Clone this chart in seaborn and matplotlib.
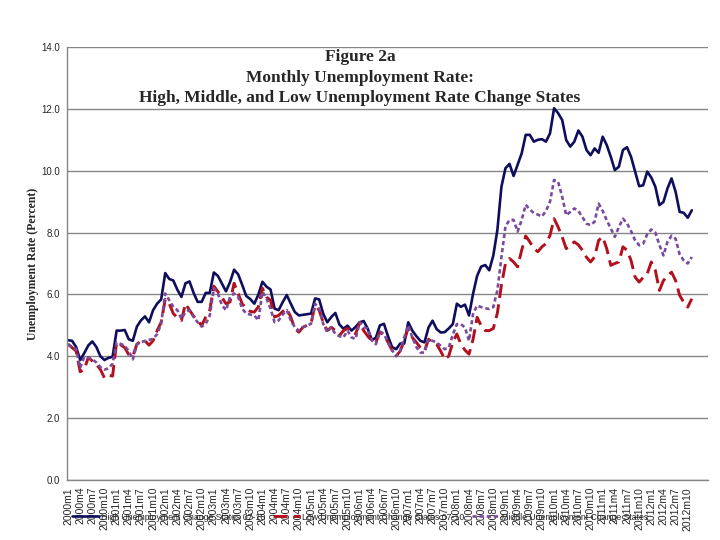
import matplotlib
matplotlib.use("Agg")
import matplotlib.pyplot as plt
import seaborn as sns
from matplotlib.ticker import FormatStrFormatter

# Monthly categories 2000m1 .. 2012m12 (labels only)
YEARS = list(range(2000, 2013))
MONTHS = [f"{y}m{m}" for y in YEARS for m in range(1, 13)]

# Unemployment rate (percent), 2000m1 .. 2012m11
HIGH = [
    4.52, 4.50, 4.30, 3.88, 4.10, 4.35, 4.48, 4.30, 4.00, 3.88, 3.95, 3.98,
    4.83, 4.83, 4.85, 4.55, 4.50, 4.96, 5.16, 5.29, 5.10, 5.49, 5.70, 5.84,
    6.69, 6.50, 6.45, 6.15, 5.92, 6.36, 6.42, 6.05, 5.76, 5.76, 6.05, 6.05,
    6.71, 6.60, 6.35, 6.10, 6.40, 6.80, 6.65, 6.31, 5.95, 5.85, 5.70, 6.00,
    6.41, 6.25, 6.16, 5.54, 5.49, 5.75, 5.98, 5.70, 5.43, 5.32, 5.34, 5.36,
    5.38, 5.87, 5.84, 5.38, 5.10, 5.27, 5.40, 5.03, 4.89, 4.99, 4.83, 4.95,
    5.10, 5.14, 4.89, 4.52, 4.60, 5.00, 5.05, 4.65, 4.30, 4.23, 4.41, 4.41,
    5.10, 4.83, 4.65, 4.50, 4.45, 4.93, 5.15, 4.88, 4.77, 4.78, 4.90, 5.04,
    5.70, 5.60, 5.67, 5.32, 6.02, 6.60, 6.90, 6.95, 6.78, 7.26, 8.08, 9.48,
    10.08, 10.22, 9.83, 10.20, 10.56, 11.16, 11.16, 10.94, 11.00, 11.02, 10.94, 11.21,
    12.02, 11.86, 11.64, 10.99, 10.78, 10.94, 11.30, 11.10, 10.67, 10.50, 10.72, 10.58,
    11.10, 10.83, 10.45, 10.02, 10.13, 10.67, 10.76, 10.45, 9.97, 9.50, 9.53, 9.97,
    9.78, 9.48, 8.89, 8.99, 9.43, 9.75, 9.32, 8.67, 8.64, 8.48, 8.72,
]
LOW = [
    4.39, 4.28, 4.17, 3.50, 3.57, 3.96, 3.85, 3.74, 3.57, 3.30, 3.39, 3.36,
    4.45, 4.37, 4.28, 4.05, 4.00, 4.39, 4.50, 4.50, 4.36, 4.50, 4.83, 5.10,
    5.84, 5.70, 5.38, 5.25, 5.16, 5.70, 5.49, 5.30, 5.16, 4.99, 5.27, 5.49,
    6.27, 6.09, 5.90, 5.70, 5.76, 6.36, 6.03, 5.70, 5.54, 5.45, 5.43, 5.60,
    6.20, 5.92, 5.81, 5.27, 5.32, 5.45, 5.54, 5.27, 4.89, 4.78, 4.94, 5.00,
    5.07, 5.65, 5.49, 5.10, 4.83, 4.94, 4.83, 4.67, 4.83, 4.90, 4.85, 4.72,
    5.10, 4.83, 4.65, 4.50, 4.45, 4.78, 4.70, 4.45, 4.20, 4.00, 4.17, 4.50,
    4.93, 4.61, 4.45, 4.28, 4.17, 4.55, 4.45, 4.39, 4.17, 3.90, 4.01, 4.45,
    4.72, 4.39, 4.20, 4.07, 4.55, 5.26, 4.99, 4.83, 4.83, 4.90, 5.40, 6.30,
    7.00, 7.16, 7.05, 6.89, 7.43, 7.89, 7.70, 7.49, 7.38, 7.54, 7.64, 7.91,
    8.45, 8.18, 7.86, 7.48, 7.59, 7.70, 7.60, 7.43, 7.20, 7.05, 7.21, 7.75,
    7.86, 7.48, 6.94, 7.00, 7.05, 7.54, 7.43, 7.10, 6.56, 6.40, 6.55, 6.67,
    7.05, 6.78, 6.13, 6.45, 6.60, 6.72, 6.45, 5.97, 5.75, 5.59, 5.86,
]
MIDDLE = [
    4.39, 4.30, 4.23, 3.63, 3.98, 3.95, 3.90, 3.80, 3.65, 3.57, 3.61, 3.76,
    4.45, 4.40, 4.34, 4.17, 3.90, 4.39, 4.45, 4.50, 4.53, 4.56, 4.72, 5.05,
    6.03, 5.81, 5.60, 5.49, 5.21, 5.43, 5.49, 5.27, 5.10, 4.96, 5.05, 5.32,
    6.20, 6.03, 5.65, 5.49, 5.92, 6.03, 5.92, 5.54, 5.38, 5.35, 5.32, 5.16,
    6.09, 5.87, 5.54, 5.10, 5.16, 5.35, 5.49, 5.16, 4.94, 4.83, 4.94, 5.00,
    5.05, 5.70, 5.54, 5.05, 4.78, 4.94, 4.72, 4.65, 4.61, 4.83, 4.61, 4.56,
    5.10, 4.95, 4.89, 4.52, 4.39, 4.80, 4.72, 4.45, 4.20, 4.00, 4.17, 4.61,
    4.99, 4.61, 4.30, 4.12, 4.12, 4.55, 4.50, 4.45, 4.34, 4.23, 4.28, 4.70,
    5.04, 5.04, 4.93, 4.50, 5.37, 5.64, 5.59, 5.55, 5.53, 5.59, 6.13, 7.20,
    8.20, 8.41, 8.41, 8.03, 8.41, 8.90, 8.75, 8.63, 8.58, 8.52, 8.70, 9.00,
    9.70, 9.64, 9.16, 8.56, 8.67, 8.78, 8.70, 8.50, 8.29, 8.24, 8.35, 8.94,
    8.70, 8.40, 8.13, 7.86, 8.18, 8.45, 8.30, 8.05, 7.75, 7.59, 7.64, 7.95,
    8.10, 8.00, 7.60, 7.26, 7.70, 7.90, 7.80, 7.30, 7.10, 7.00, 7.21,
]

LABELS = [
    "High Unemployment Change States 07-10",
    "Low Unemployment Change States 07-10",
    "Middle Unemployment Change States",
]
TITLE = ("Figure 2a\nMonthly Unemployment Rate:\n"
         "High, Middle, and Low Unemployment Rate Change States")

sns.set_style("white")
plt.rcParams["font.family"] = ["Liberation Sans", "DejaVu Sans"]

fig = plt.figure(figsize=(7.2, 5.4), dpi=100)
ax = fig.add_axes([67 / 720, 1 - 480 / 540, 641 / 720, 433 / 540])

pos = list(range(len(HIGH)))
sns.lineplot(x=pos, y=HIGH, ax=ax, color="#0E0E5C", linewidth=1.9,
             label=LABELS[0])
sns.lineplot(x=pos, y=LOW, ax=ax, color="#B3101E", linewidth=2.1,
             linestyle=(0, (4.8, 2.2)), label=LABELS[1])
sns.lineplot(x=pos, y=MIDDLE, ax=ax, color="#7A4B9C", linewidth=1.9,
             linestyle=(0, (1.6, 1.1)), label=LABELS[2])

ax.set_xlim(-0.25, 158)
ax.set_ylim(0, 14)
ax.set_yticks(range(0, 15, 2))
ax.yaxis.set_major_formatter(FormatStrFormatter("%.1f"))
ax.yaxis.grid(True, color="#868686", linewidth=1)
ax.xaxis.grid(False)

ax.set_xticks(range(0, len(MONTHS), 3))
ax.set_xticklabels(MONTHS[::3], rotation=90, fontsize=7.5)
ax.set_xticks(range(0, 158), minor=True)
ax.tick_params(axis="x", which="both", direction="out", length=3,
               color="#868686", pad=2)
ax.tick_params(axis="y", direction="out", length=3, color="#868686",
               labelsize=7, pad=2)

for side in ("top", "right"):
    ax.spines[side].set_visible(False)
for side in ("left", "bottom"):
    ax.spines[side].set_color("#868686")
    ax.spines[side].set_linewidth(1)

ax.set_xlabel("")
ax.set_ylabel("Unemployment Rate (Percent)", fontsize=8.5, fontweight="bold",
              family="Liberation Serif", labelpad=2)

fig.text(0.5, 1 - 49 / 540, TITLE, ha="center", va="top", fontsize=12.5,
         fontweight="bold", family="Liberation Serif", linespacing=1.38)

handles, labs = ax.get_legend_handles_labels()
ax.get_legend().remove()
fig.legend(handles, labs, loc="center", bbox_to_anchor=(0.5, 1 - 517 / 540),
           ncol=3, frameon=False, fontsize=6.3, handlelength=3.1,
           handletextpad=0.3, columnspacing=0.8)

fig.savefig("out.png", dpi=100)
